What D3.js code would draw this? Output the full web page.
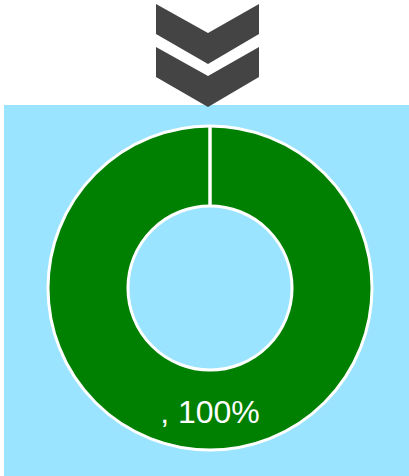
<!DOCTYPE html>
<html>
<head>
<meta charset="utf-8">
<script src="https://cdn.jsdelivr.net/npm/d3@7"></script>
<style>
html,body{margin:0;padding:0;background:#fff;}
svg{display:block;}
</style>
</head>
<body>
<svg id="chart" width="409" height="476"></svg>
<script>
const categories = [""];
const values = [100];

const W = 409, H = 476;
const svg = d3.select("#chart");

// background panel
svg.append("rect")
  .attr("x", 4).attr("y", 105)
  .attr("width", W - 4).attr("height", H - 105)
  .attr("fill", "#9be4ff");

// double chevron icon
const chev = (top) => {
  const p = d3.path();
  p.moveTo(156, top);
  p.lineTo(208, top + 29);
  p.lineTo(259, top);
  p.lineTo(259, top + 30);
  p.lineTo(208, top + 60);
  p.lineTo(156, top + 30);
  p.closePath();
  return p.toString();
};
svg.append("path").attr("d", chev(4)).attr("fill", "#444444");
svg.append("path").attr("d", chev(47)).attr("fill", "#444444");

// donut
const cx = 210, cy = 288, rOuter = 162, rInner = 82;
const total = d3.sum(values);
const pie = d3.pie().sort(null).value(d => d.value);
const data = categories.map((c, i) => ({name: c, value: values[i]}));
const arcs = pie(data);
const arc = d3.arc().innerRadius(rInner).outerRadius(rOuter);
const color = d3.scaleOrdinal().domain(categories).range(["#008000"]);

const g = svg.append("g").attr("transform", `translate(${cx},${cy})`);
g.selectAll("path.slice").data(arcs).join("path")
  .attr("class", "slice")
  .attr("d", arc)
  .attr("fill", d => color(d.data.name))
  .attr("stroke", "#fff")
  .attr("stroke-width", 3);

// radial slice edges
g.selectAll("line.edge").data(arcs).join("line")
  .attr("class", "edge")
  .attr("x1", d => d3.pointRadial(d.startAngle, rInner)[0])
  .attr("y1", d => d3.pointRadial(d.startAngle, rInner)[1])
  .attr("x2", d => d3.pointRadial(d.startAngle, rOuter)[0])
  .attr("y2", d => d3.pointRadial(d.startAngle, rOuter)[1])
  .attr("stroke", "#fff")
  .attr("stroke-width", 3.5);

g.selectAll("text.lbl").data(arcs).join("text")
  .attr("class", "lbl")
  .attr("transform", d => `translate(${arc.centroid(d)})`)
  .attr("dy", "0.42em")
  .attr("text-anchor", "middle")
  .attr("fill", "#fff")
  .attr("font-family", "Liberation Sans, Arial, sans-serif")
  .attr("font-size", 32)
  .text(d => `${d.data.name}, ${Math.round(d.value / total * 100)}%`);
</script>
</body>
</html>
